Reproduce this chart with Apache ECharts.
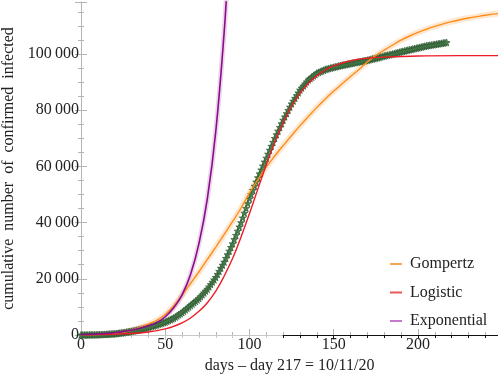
<!DOCTYPE html>
<html><head><meta charset="utf-8">
<script src="https://cdn.jsdelivr.net/npm/echarts@6/dist/echarts.min.js"></script>
<style>html,body{margin:0;padding:0;background:#fff}#c{width:498px;height:376px}</style>
</head><body><div id="c"></div>
<script>
// ---- data ----
// observed cumulative confirmed infected, day 0..217
const observed = [
20,26,32,38,44,50,62,74,86,98,110,138,166,194,222,250,290,330,370,410,450,
520,590,660,730,800,900,1000,1100,1200,1300,1420,1540,1660,1780,1900,
2060,2220,2380,2540,2700,2880,3060,3240,3420,3600,3800,4000,4200,4400,4600,
4880,5160,5440,5720,6000,6400,6800,7200,7600,8000,8500,9000,9500,10000,10500,
11000,11500,12000,12500,13000,13660,14320,14980,15640,16300,17140,17980,18820,19660,20500,
21600,22700,23800,24900,26000,27300,28600,29900,31200,32500,34000,35500,37000,38500,40000,
41700,43400,45100,46800,48500,50000,51500,53000,54500,56000,57400,58800,60200,61600,63000,
64400,65800,67200,68600,70000,71300,72600,73900,75200,76500,77660,78820,79980,81140,82300,
83280,84260,85240,86220,87200,87920,88640,89360,90080,90800,91280,91760,92240,92720,93200,
93460,93720,93980,94240,94500,94660,94820,94980,95140,95300,95440,95580,95720,95860,96000,
96120,96240,96360,96480,96600,96720,96840,96960,97080,97200,97320,97440,97560,97680,97800,
97940,98080,98220,98360,98500,98660,98820,98980,99140,99300,99440,99580,99720,99860,100000,
100160,100320,100480,100640,100800,100940,101080,101220,101360,101500,101640,101780,101920,102060,102200,
102340,102480,102620,102760,102900,103000,103100,103200,103300,103400,103500,103600,103700,103800,103900,
104000,104100
];
const gompertzDays = [0,10,20,25,30,35,40,45,50,55,60,65,70,75,80,85,90,95,100,105,110,115,120,125,130,135,140,145,150,155,160,165,170,175,180,185,190,195,200,205,210,215,220,225,230,235,240,248];
const gompertzVals = [30,150,550,1000,1700,2700,3900,5200,7300,10300,14200,18300,22500,26900,31300,35800,40400,45200,50600,55300,59800,63700,67400,71000,74500,77800,81000,84000,86800,89400,92000,94500,97200,99500,101400,103200,104900,106400,107700,108800,109800,110700,111500,112200,112800,113300,113800,114400];
const logisticDays = [0,10,20,30,40,45,50,55,60,65,70,75,80,85,90,95,100,105,110,115,120,125,130,135,140,145,150,160,170,180,200,225,248];
const logisticVals = [70,130,270,540,1090,1540,2170,3090,4320,6060,8420,11500,15600,21000,27300,34900,43200,52000,60600,68600,75500,81400,86000,89600,92300,94300,95800,97600,98500,98900,99300,99400,99400];
const expDays = [0,5,10,15,20,25,30,35,40,45,50,55,60,65,70,75,80,85,87];
const expVals = [150,230,350,530,800,1200,1700,2400,3300,4400,6500,9700,14300,21500,32500,48500,72500,108000,128000];
const seriesNames = ['Gompertz','Logistic','Exponential'];
const xTicks = [0,50,100,150,200];
const yTicks = [0,20000,40000,60000,80000,100000];

const pairs = (d,v)=>d.map((t,i)=>[t,v[i]]);
const obsPairs = observed.map((v,i)=>[i,v]);
const FONT = 'Liberation Serif';
const fmtY = v => { if (yTicks.indexOf(v) < 0) return ''; if (v===0) return '0'; const s=String(v); return s.slice(0,s.length-3)+'\u2009'+s.slice(-3); };
const fmtX = v => xTicks.indexOf(v) >= 0 ? String(v) : '';
const star = 'path://M12,0L14.9,8.3L23.4,8.3L16.5,13.5L19.1,21.8L12,16.7L4.9,21.8L7.5,13.5L0.6,8.3L9.1,8.3Z';
const XMAX = 247.5, YMAX = 118500;

const chart = echarts.init(document.getElementById('c'));
chart.setOption({
  animation:false,
  grid:[{left:81,right:0,top:2,bottom:41,containLabel:false,outerBoundsMode:'none'},
        {left:283.2,right:0,top:2,bottom:41,containLabel:false,outerBoundsMode:'none'}],
  xAxis:[
    {type:'value',gridIndex:0,position:'bottom',min:0,max:XMAX,interval:50,
     name:'days \u2013 day 217 = 10/11/20',nameLocation:'middle',nameGap:20,
     nameTextStyle:{fontFamily:FONT,fontSize:16,color:'#222'},
     axisLine:{lineStyle:{color:'#b4b4b4'}},
     axisTick:{inside:true,length:6,lineStyle:{color:'#b4b4b4'}},
     minorTick:{show:true,splitNumber:5,length:3,lineStyle:{color:'#b4b4b4'}},
     splitLine:{show:false},
     axisLabel:{margin:2,fontFamily:FONT,fontSize:16,color:'#222',formatter:fmtX}},
    {type:'value',gridIndex:0,position:'top',min:0,max:XMAX,interval:50,
     axisLine:{lineStyle:{color:'#c8c8c8'}},
     axisTick:{inside:true,length:5,lineStyle:{color:'#c8c8c8'}},
     minorTick:{show:true,splitNumber:5,length:3,lineStyle:{color:'#c8c8c8'}},
     splitLine:{show:false},axisLabel:{show:false}},
    {type:'value',gridIndex:1,position:'top',min:120,max:XMAX,interval:10,
     axisLine:{lineStyle:{color:'#111',width:1.2}},
     axisTick:{inside:true,length:3,lineStyle:{color:'#111'}},
     splitLine:{show:false},axisLabel:{show:false}}
  ],
  yAxis:[
    {type:'value',gridIndex:0,position:'left',min:0,max:YMAX,interval:20000,
     name:'cumulative  number  of  confirmed  infected',nameLocation:'middle',nameGap:56,
     nameTextStyle:{fontFamily:FONT,fontSize:16,color:'#222'},
     axisLine:{show:true,lineStyle:{color:'#b4b4b4'}},
     axisTick:{show:true,inside:true,length:6,lineStyle:{color:'#b4b4b4'}},
     minorTick:{show:true,splitNumber:4,length:3,lineStyle:{color:'#b4b4b4'}},
     splitLine:{show:false},
     axisLabel:{margin:2,fontFamily:FONT,fontSize:16,color:'#222',formatter:fmtY}},
    {type:'value',gridIndex:0,position:'right',min:0,max:YMAX,interval:20000,
     axisLine:{show:false},
     axisTick:{show:true,inside:true,length:6,lineStyle:{color:'#b4b4b4'}},
     minorTick:{show:true,splitNumber:4,length:3,lineStyle:{color:'#b4b4b4'}},
     splitLine:{show:false},axisLabel:{show:false}},
    {type:'value',gridIndex:1,min:0,max:YMAX,show:false}
  ],
  legend:{orient:'vertical',left:385,top:250,itemWidth:12,itemHeight:2,itemGap:10.5,icon:'rect',
    data:[{name:seriesNames[0],itemStyle:{color:'#f6a456'}},{name:seriesNames[1],itemStyle:{color:'#e8585c'}},{name:seriesNames[2],itemStyle:{color:'#c77ac7'}}],
    textStyle:{fontFamily:FONT,fontSize:16,color:'#222',lineHeight:18,padding:[0,0,0,3]}},
  series:[
    {name:'gband',type:'line',xAxisIndex:0,yAxisIndex:0,data:pairs(gompertzDays,gompertzVals),smooth:0.4,showSymbol:false,silent:true,
     lineStyle:{color:'rgba(255,150,50,0.22)',width:6},z:1},
    {name:'eband',type:'line',xAxisIndex:0,yAxisIndex:0,data:pairs(expDays,expVals),smooth:0.4,showSymbol:false,silent:true,
     lineStyle:{color:'rgba(180,90,180,0.25)',width:5},z:1},
    {name:'data',type:'line',xAxisIndex:0,yAxisIndex:0,data:obsPairs,symbol:star,symbolSize:7,showSymbol:true,
     lineStyle:{width:0,opacity:0},itemStyle:{color:'#4d8050',borderColor:'#2f5c32',borderWidth:0.7},z:2},
    {name:seriesNames[0],type:'line',xAxisIndex:0,yAxisIndex:0,data:pairs(gompertzDays,gompertzVals),smooth:0.4,showSymbol:false,
     lineStyle:{color:'#ff8c1a',width:1.4},itemStyle:{color:'#f6a456'},z:3},
    {name:seriesNames[1],type:'line',xAxisIndex:0,yAxisIndex:0,data:pairs(logisticDays,logisticVals),smooth:0.4,showSymbol:false,
     lineStyle:{color:'#ee1c24',width:1.4},itemStyle:{color:'#e8585c'},z:3},
    {name:seriesNames[2],type:'line',xAxisIndex:0,yAxisIndex:0,data:pairs(expDays,expVals),smooth:0.4,showSymbol:false,
     lineStyle:{color:'#8a0e8a',width:1.6},itemStyle:{color:'#c77ac7'},z:3}
  ]
});
</script></body></html>
